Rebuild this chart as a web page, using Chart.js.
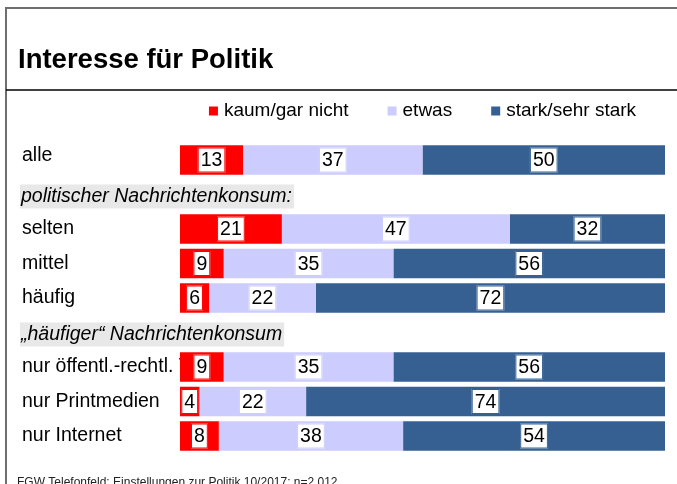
<!DOCTYPE html>
<html>
<head>
<meta charset="utf-8">
<script src="https://cdn.jsdelivr.net/npm/chart.js@4.4.0/dist/chart.umd.min.js"></script>
<style>
  html, body { margin: 0; padding: 0; background: #fff; }
  #wrap { position: relative; width: 677px; height: 484px; }
</style>
</head>
<body>
<div id="wrap"><canvas id="politik" width="677" height="484"></canvas></div>
<script>
// rows of the chart; header rows have no bars
const categories = ['alle', 'politischer Nachrichtenkonsum:', 'selten', 'mittel', 'häufig',
  '„häufiger“ Nachrichtenkonsum', 'nur öffentl.-rechtl. TV', 'nur Printmedien', 'nur Internet'];
const headerRows = ['politischer Nachrichtenkonsum:', '„häufiger“ Nachrichtenkonsum'];
const seriesNames = ['kaum/gar nicht', 'etwas', 'stark/sehr stark'];
const kaum  = [13, null, 21, 9, 6, null, 9, 4, 8];
const etwas = [37, null, 47, 35, 22, null, 35, 22, 38];
const stark = [50, null, 32, 56, 72, null, 56, 74, 54];
const colors = ['#ff0000', '#ccccff', '#366092'];

const chartTitle = 'Interesse für Politik';
const footnote = 'FGW Telefonfeld: Einstellungen zur Politik 10/2017; n=2.012';
const FONT = '"Liberation Sans", Arial, Helvetica, sans-serif';

// frame, title and footnote
const framePlugin = {
  id: 'frame',
  beforeDraw(chart) {
    const ctx = chart.ctx;
    ctx.save();
    ctx.fillStyle = '#fff';
    ctx.fillRect(0, 0, chart.width, chart.height);
    ctx.strokeStyle = '#6e6e6e';
    ctx.lineWidth = 2;
    ctx.beginPath();
    ctx.moveTo(6, chart.height);
    ctx.lineTo(6, 8);
    ctx.lineTo(chart.width, 8);
    ctx.stroke();
    ctx.strokeStyle = '#000';
    ctx.lineWidth = 1.5;
    ctx.beginPath();
    ctx.moveTo(6, 90);
    ctx.lineTo(chart.width, 90);
    ctx.stroke();
    ctx.fillStyle = '#000';
    ctx.font = 'bold 27.5px ' + FONT;
    ctx.textBaseline = 'alphabetic';
    ctx.fillText(chartTitle, 18, 68);
    ctx.font = '12px ' + FONT;
    ctx.fillStyle = '#222';
    ctx.fillText(footnote, 17, 486);
    ctx.restore();
  }
};

// row labels on the left, drawn before the bars so the bars cover overflow
const rowLabelPlugin = {
  id: 'rowLabels',
  beforeDatasetsDraw(chart) {
    const ctx = chart.ctx;
    const y = chart.scales.y;
    ctx.save();
    ctx.textBaseline = 'middle';
    categories.forEach((lab, i) => {
      const py = y.getPixelForValue(i);
      if (headerRows.includes(lab)) {
        ctx.font = 'italic 19.5px ' + FONT;
        const w = ctx.measureText(lab).width;
        ctx.fillStyle = '#e8e8e8';
        ctx.fillRect(20, py - 10, w + 3, 24);
        ctx.fillStyle = '#000';
        ctx.fillText(lab, 21, py + 2);
      } else {
        ctx.font = '19.5px ' + FONT;
        ctx.fillStyle = '#000';
        ctx.fillText(lab, 22, i === 0 ? py - 4 : py);
      }
    });
    ctx.restore();
  }
};

// white value boxes in the middle of each segment
const valueBoxPlugin = {
  id: 'valueBoxes',
  afterDatasetsDraw(chart) {
    const ctx = chart.ctx;
    ctx.save();
    ctx.font = '19.5px ' + FONT;
    ctx.textAlign = 'center';
    ctx.textBaseline = 'middle';
    chart.data.datasets.forEach((ds, di) => {
      chart.getDatasetMeta(di).data.forEach((bar, i) => {
        const v = ds.data[i];
        if (v === null) return;
        const txt = String(v);
        const w = ctx.measureText(txt).width + 6;
        const h = 25;
        const cx = (bar.x + bar.base) / 2;
        const cy = bar.y;
        ctx.fillStyle = '#fff';
        ctx.fillRect(cx - w / 2, cy - h / 2, w, h);
        ctx.strokeStyle = ds.backgroundColor;
        ctx.lineWidth = 1;
        ctx.strokeRect(cx - w / 2 + 0.5, cy - h / 2 + 0.5, w - 1, h - 1);
        ctx.fillStyle = '#000';
        ctx.fillText(txt, cx, cy + 1);
      });
    });
    ctx.restore();
  }
};

// legend row above the bars, centred on the plot area
const legendPlugin = {
  id: 'legendRow',
  afterDraw(chart) {
    const ctx = chart.ctx;
    const area = chart.chartArea;
    const box = 9, gap = 6, spacing = 39;
    ctx.save();
    ctx.font = '19px ' + FONT;
    ctx.textBaseline = 'middle';
    const items = chart.data.datasets.map(ds => ({
      label: ds.label, color: ds.backgroundColor, w: ctx.measureText(ds.label).width
    }));
    const total = items.reduce((s, it) => s + box + gap + it.w, 0) + spacing * (items.length - 1);
    let x = (area.left + area.right) / 2 - total / 2;
    const cy = 111;
    items.forEach(it => {
      ctx.fillStyle = it.color;
      ctx.fillRect(x, cy - box / 2, box, box);
      ctx.fillStyle = '#000';
      ctx.fillText(it.label, x + box + gap, cy);
      x += box + gap + it.w + spacing;
    });
    ctx.restore();
  }
};

new Chart(document.getElementById('politik').getContext('2d'), {
  type: 'bar',
  data: {
    labels: categories,
    datasets: [
      { label: seriesNames[0], data: kaum, backgroundColor: colors[0] },
      { label: seriesNames[1], data: etwas, backgroundColor: colors[1] },
      { label: seriesNames[2], data: stark, backgroundColor: colors[2] }
    ]
  },
  options: {
    indexAxis: 'y',
    responsive: false,
    animation: false,
    layout: { padding: { left: 180, right: 12, top: 142.75, bottom: 30.75 } },
    datasets: { bar: { barPercentage: 0.85, categoryPercentage: 1, borderWidth: 0 } },
    scales: {
      x: { stacked: true, min: 0, max: 100, display: false },
      y: { stacked: true, display: false }
    },
    plugins: {
      legend: { display: false },
      title: { display: false },
      tooltip: { enabled: false }
    }
  },
  plugins: [framePlugin, rowLabelPlugin, valueBoxPlugin, legendPlugin]
});
</script>
</body>
</html>
